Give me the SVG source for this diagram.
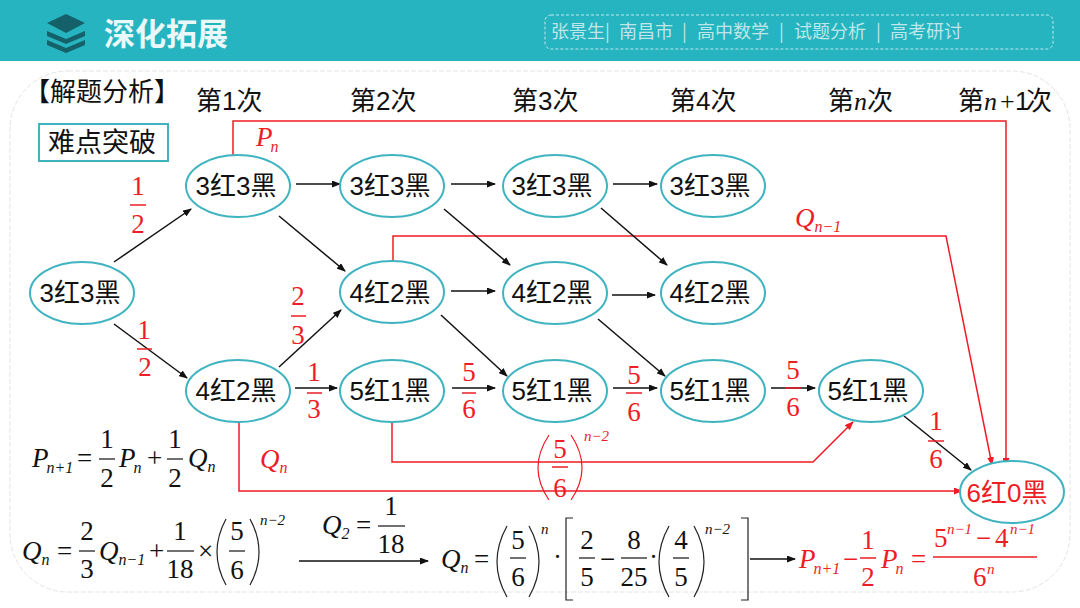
<svg xmlns="http://www.w3.org/2000/svg" width="1080" height="608" viewBox="0 0 1080 608">
<style>
.n{fill:#fff;stroke:#3fb4c0;stroke-width:2}
.t{font:26px "Liberation Sans","Noto Sans CJK SC",sans-serif;fill:#111;text-anchor:middle}
.h{font:26px "Liberation Sans","Noto Sans CJK SC",sans-serif;fill:#111}
.w{font:18px "Noto Sans CJK SC",sans-serif;fill:#bfe6e8}
.s{font:27px "Liberation Serif",serif;fill:#111;text-anchor:middle}
.p{font:27px "Liberation Serif",serif;fill:#111}
.u{font:italic 15px "Liberation Serif",serif;fill:#111}
.i{font-style:italic}
.sub{font-size:16px;font-style:italic}
.k{stroke:#111;stroke-width:1.5;fill:none}
.e{stroke:#ee1c25;stroke-width:1.5;fill:none}
.kb{stroke:#222;stroke-width:1.2;fill:none}
.eb{stroke:#ee1c25;stroke-width:1.2;fill:none}
.bar{stroke:#111;stroke-width:1.2}
.rbar{stroke:#ee1c25;stroke-width:1.5}
.r{fill:#ee1c25}
</style>
<defs>
<marker id="ak" markerWidth="9" markerHeight="7" refX="8" refY="3.5" orient="auto" markerUnits="userSpaceOnUse"><path d="M0 0L9 3.5L0 7Z" fill="#111"/></marker>
<marker id="ar" markerWidth="9" markerHeight="7" refX="8" refY="3.5" orient="auto" markerUnits="userSpaceOnUse"><path d="M0 0L9 3.5L0 7Z" fill="#ee1c25"/></marker>
</defs>
<rect width="1080" height="608" fill="#fff"/>
<rect width="1080" height="61" fill="#26b5c0"/>
<rect x="10" y="71" width="1060" height="521" rx="58" fill="none" stroke="#e4e4e4" stroke-width="1" stroke-dasharray="5 2"/>
<g id="logo">
<path d="M47 31L66 39L85 31L85 36L66 44L47 36Z" fill="#15616a"/>
<path d="M47 40L66 48L85 40L85 45L66 53L47 45Z" fill="#15616a"/>
<path d="M47 23L66 14L85 23L66 33Z" fill="#15616a"/>
</g>
<text x="104" y="45" style="font:bold 31px 'Noto Sans CJK SC',sans-serif;fill:#e9f8f8">深化拓展</text>
<rect x="545" y="15" width="508" height="34" rx="6" fill="none" stroke="#bfe8ea" stroke-width="1" stroke-dasharray="3 2"/>
<text x="551" y="38" class="w">张景生|</text>
<text x="619" y="38" class="w">南昌市</text>
<text x="682" y="38" class="w">|</text>
<text x="697" y="38" class="w">高中数学</text>
<text x="779" y="38" class="w">|</text>
<text x="794" y="38" class="w">试题分析</text>
<text x="876" y="38" class="w">|</text>
<text x="890" y="38" class="w">高考研讨</text>

<text x="24" y="101" class="h">【解题分析】</text>
<rect x="39" y="124" width="129" height="37" fill="#fff" stroke="#3fb4c0" stroke-width="2"/>
<text x="102" y="152" class="t" style="font-size:27px">难点突破</text>

<text x="196" y="110" class="h">第1次</text>
<text x="350" y="110" class="h">第2次</text>
<text x="512" y="110" class="h">第3次</text>
<text x="670" y="110" class="h">第4次</text>
<text x="828" y="110" class="h">第<tspan font-family="Liberation Serif" font-style="italic">n</tspan>次</text>
<text x="958" y="110" class="h">第<tspan font-family="Liberation Serif" font-style="italic">n</tspan><tspan x="1000" font-family="Liberation Serif">+</tspan><tspan x="1015">1</tspan><tspan x="1026">次</tspan></text>

<g id="connectors">
<path class="e" marker-end="url(#ar)" d="M233 155V121H1006V466"/>
<path class="e" marker-end="url(#ar)" d="M393 261V236H946L992 465"/>
<path class="e" marker-end="url(#ar)" d="M392 420V462H813L853 422"/>
<path class="e" marker-end="url(#ar)" d="M239 420V491H962"/>
<path class="k" marker-end="url(#ak)" d="M114 262L191 209"/>
<path class="k" marker-end="url(#ak)" d="M114 324L187 378"/>
<path class="k" marker-end="url(#ak)" d="M279 216L345 271"/>
<path class="k" marker-end="url(#ak)" d="M279 367L341 310"/>
<path class="k" marker-end="url(#ak)" d="M296 184H340"/>
<path class="k" marker-end="url(#ak)" d="M451 184H495"/>
<path class="k" marker-end="url(#ak)" d="M613 184H657"/>
<path class="k" marker-end="url(#ak)" d="M444 209L510 265"/>
<path class="k" marker-end="url(#ak)" d="M601 208L667 265"/>
<path class="k" marker-end="url(#ak)" d="M451 291H495"/>
<path class="k" marker-end="url(#ak)" d="M612 295H655"/>
<path class="k" marker-end="url(#ak)" d="M441 315L507 376"/>
<path class="k" marker-end="url(#ak)" d="M598 319L665 376"/>
<path class="k" marker-end="url(#ak)" d="M295 388H337"/>
<path class="k" marker-end="url(#ak)" d="M452 388H495"/>
<path class="k" marker-end="url(#ak)" d="M613 388H657"/>
<path class="k" marker-end="url(#ak)" d="M771 388H815"/>
<path class="k" marker-end="url(#ak)" d="M904 416L971 470"/>
<path class="k" marker-end="url(#ak)" d="M299 561H428"/>
<path class="k" marker-end="url(#ak)" d="M750 559H795"/>
</g>

<g id="node-a"><ellipse class="n" cx="82" cy="293" rx="52" ry="31"/><text class="t" x="80" y="302">3红3黑</text></g>
<g id="node-b1"><ellipse class="n" cx="238" cy="186" rx="52" ry="31"/><text class="t" x="236" y="195">3红3黑</text></g>
<g id="node-b2"><ellipse class="n" cx="392" cy="186" rx="52" ry="31"/><text class="t" x="390" y="195">3红3黑</text></g>
<g id="node-b3"><ellipse class="n" cx="555" cy="186" rx="52" ry="31"/><text class="t" x="552" y="195">3红3黑</text></g>
<g id="node-b4"><ellipse class="n" cx="713" cy="186" rx="52" ry="31"/><text class="t" x="710" y="195">3红3黑</text></g>
<g id="node-c2"><ellipse class="n" cx="392" cy="292" rx="52" ry="31"/><text class="t" x="390" y="302">4红2黑</text></g>
<g id="node-c3"><ellipse class="n" cx="555" cy="293" rx="52" ry="31"/><text class="t" x="552" y="302">4红2黑</text></g>
<g id="node-c4"><ellipse class="n" cx="713" cy="293" rx="52" ry="31"/><text class="t" x="710" y="302">4红2黑</text></g>
<g id="node-d1"><ellipse class="n" cx="238" cy="391" rx="52" ry="31"/><text class="t" x="236" y="400">4红2黑</text></g>
<g id="node-d2"><ellipse class="n" cx="392" cy="391" rx="52" ry="31"/><text class="t" x="390" y="400">5红1黑</text></g>
<g id="node-d3"><ellipse class="n" cx="555" cy="391" rx="52" ry="31"/><text class="t" x="552" y="400">5红1黑</text></g>
<g id="node-d4"><ellipse class="n" cx="713" cy="391" rx="52" ry="31"/><text class="t" x="710" y="400">5红1黑</text></g>
<g id="node-d5"><ellipse class="n" cx="871" cy="391" rx="52" ry="31"/><text class="t" x="868" y="400">5红1黑</text></g>
<g id="node-end"><ellipse class="n" cx="1012" cy="492" rx="52" ry="31"/><text class="t r" x="1007" y="502">6红0黑</text></g>

<g id="edge-fractions">
<text class="s r" x="138" y="195">1</text><line class="rbar" x1="130" x2="146" y1="205" y2="205"/><text class="s r" x="138" y="233">2</text>
<text class="s r" x="144" y="339">1</text><line class="rbar" x1="137" x2="152" y1="349" y2="349"/><text class="s r" x="145" y="376">2</text>
<text class="s r" x="298" y="305">2</text><line class="rbar" x1="291" x2="306" y1="316" y2="316"/><text class="s r" x="298" y="344">3</text>
<text class="s r" x="314" y="381">1</text><line class="rbar" x1="307" x2="322" y1="393" y2="393"/><text class="s r" x="314" y="418">3</text>
<text class="s r" x="469" y="381">5</text><line class="rbar" x1="462" x2="476" y1="393" y2="393"/><text class="s r" x="469" y="418">6</text>
<text class="s r" x="634" y="384">5</text><line class="rbar" x1="626" x2="642" y1="393" y2="393"/><text class="s r" x="634" y="421">6</text>
<text class="s r" x="793" y="379">5</text><line class="rbar" x1="785" x2="801" y1="388" y2="388"/><text class="s r" x="793" y="416">6</text>
<text class="s r" x="936" y="430">1</text><line class="rbar" x1="928" x2="944" y1="441" y2="441"/><text class="s r" x="936" y="468">6</text>
<text class="p r" x="256" y="146"><tspan class="i">P</tspan><tspan class="sub" dx="-2" dy="6">n</tspan></text>
<text class="p r" x="795" y="227"><tspan class="i">Q</tspan><tspan class="sub" dy="5">n−1</tspan></text>
<text class="p r" x="260" y="468"><tspan class="i">Q</tspan><tspan class="sub" dy="5">n</tspan></text>
<path class="eb" d="M549 435Q527 468 549 500M571 435Q593 468 571 500"/>
<text class="s r" x="560" y="458">5</text><line class="rbar" x1="552" x2="568" y1="467" y2="467"/><text class="s r" x="560" y="497">6</text>
<text class="u r" x="584" y="441">n−2</text>
</g>

<g id="formula-p">
<text class="p" x="32" y="467"><tspan class="i">P</tspan><tspan class="sub" dx="-2" dy="6">n+1</tspan></text>
<text class="p" x="77" y="467">=</text>
<text class="s" x="107" y="448">1</text><line class="bar" x1="99" x2="115" y1="459" y2="459"/><text class="s" x="107" y="487">2</text>
<text class="p" x="119" y="467"><tspan class="i">P</tspan><tspan class="sub" dx="-2" dy="6">n</tspan></text>
<text class="p" x="147" y="467">+</text>
<text class="s" x="175" y="448">1</text><line class="bar" x1="167" x2="183" y1="459" y2="459"/><text class="s" x="175" y="487">2</text>
<text class="p" x="188" y="467"><tspan class="i">Q</tspan><tspan class="sub" dy="5">n</tspan></text>
</g>
<g id="formula-q">
<text class="p" x="22" y="560"><tspan class="i">Q</tspan><tspan class="sub" dy="5">n</tspan></text>
<text class="p" x="57" y="560">=</text>
<text class="s" x="87" y="540">2</text><line class="bar" x1="79" x2="95" y1="551" y2="551"/><text class="s" x="87" y="578">3</text>
<text class="p" x="99" y="560"><tspan class="i">Q</tspan><tspan class="sub" dy="5">n−1</tspan></text>
<text class="p" x="149" y="560">+</text>
<text class="s" x="180" y="540">1</text><line class="bar" x1="167" x2="194" y1="551" y2="551"/><text class="s" x="180" y="578">18</text>
<text class="p" x="198" y="560">×</text>
<path class="kb" d="M226 519Q208 552 226 585M250 519Q268 552 250 585"/>
<text class="s" x="237" y="540">5</text><line class="bar" x1="229" x2="245" y1="551" y2="551"/><text class="s" x="237" y="579">6</text>
<text class="u" x="260" y="525">n−2</text>
<text class="p" x="322" y="534"><tspan class="i">Q</tspan><tspan class="sub" dy="5">2</tspan></text>
<text class="p" x="356" y="534">=</text>
<text class="s" x="391" y="515">1</text><line class="bar" x1="378" x2="405" y1="526" y2="526"/><text class="s" x="391" y="553">18</text>
</g>
<g id="formula-q2">
<text class="p" x="441" y="568"><tspan class="i">Q</tspan><tspan class="sub" dy="5">n</tspan></text>
<text class="p" x="474" y="568">=</text>
<path class="kb" d="M507 526Q487 562 507 597M529 526Q549 562 529 597"/>
<text class="s" x="518" y="549">5</text><line class="bar" x1="510" x2="526" y1="558" y2="558"/><text class="s" x="518" y="586">6</text>
<text class="u" x="541" y="534">n</text>
<text class="p" x="553" y="566">·</text>
<path class="kb" d="M573 518H566V600H573M741 518H748V600H741"/>
<text class="s" x="587" y="549">2</text><line class="bar" x1="579" x2="595" y1="558" y2="558"/><text class="s" x="587" y="586">5</text>
<text class="p" x="600" y="568">−</text>
<text class="s" x="634" y="549">8</text><line class="bar" x1="621" x2="647" y1="558" y2="558"/><text class="s" x="634" y="586">25</text>
<text class="p" x="649" y="566">·</text>
<path class="kb" d="M669 526Q649 562 669 597M694 526Q714 562 694 597"/>
<text class="s" x="681" y="549">4</text><line class="bar" x1="673" x2="689" y1="558" y2="558"/><text class="s" x="681" y="586">5</text>
<text class="u" x="705" y="534">n−2</text>
</g>
<g id="formula-result">
<text class="p r" x="799" y="568"><tspan class="i">P</tspan><tspan class="sub" dx="-2" dy="6">n+1</tspan></text>
<text class="p r" x="843" y="568">−</text>
<text class="s r" x="868" y="549">1</text><line class="rbar" x1="860" x2="876" y1="558" y2="558"/><text class="s r" x="868" y="586">2</text>
<text class="p r" x="881" y="568"><tspan class="i">P</tspan><tspan class="sub" dx="-2" dy="6">n</tspan></text>
<text class="p r" x="911" y="568">=</text>
<text class="p r" x="934" y="547">5</text><text x="947" y="534" class="u r">n−1</text>
<text class="p r" x="976" y="547">−</text><text class="p r" x="995" y="547">4</text><text x="1010" y="534" class="u r">n−1</text>
<line class="rbar" x1="933" x2="1037" y1="557" y2="557"/>
<text class="p r" x="973" y="586">6</text><text x="987" y="574" class="u r">n</text>
</g>
</svg>
